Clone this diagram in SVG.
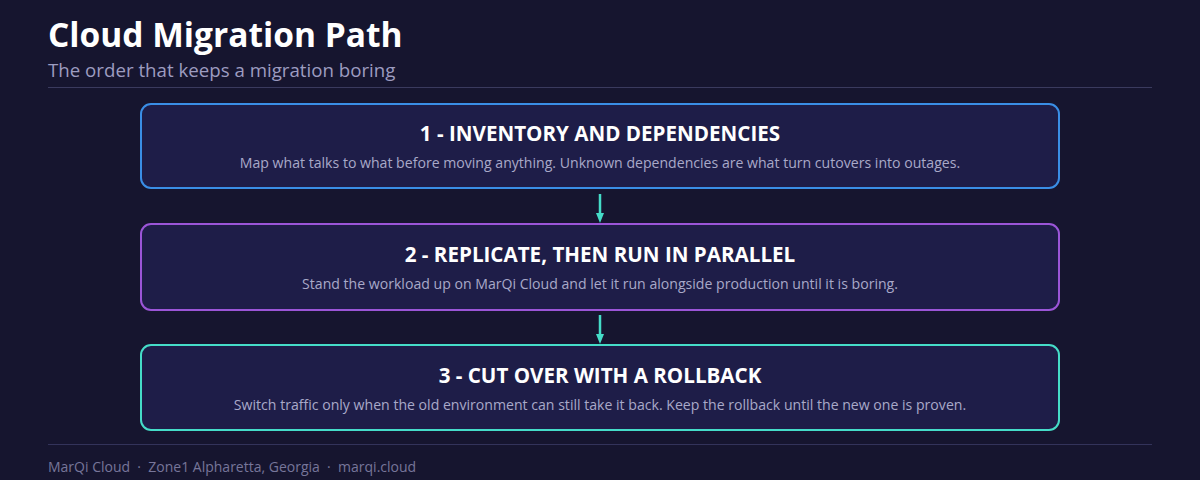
<svg xmlns="http://www.w3.org/2000/svg" width="1200" height="480" viewBox="0 0 1200 480">
<defs>
<style>
.t{font-family:"Open Sans","Noto Sans",sans-serif;}
.h{font-size:20.6px;font-weight:700;fill:#ffffff;text-anchor:middle}
.d{font-size:14.1px;fill:#a9a9c8;text-anchor:middle}
.box{fill:#1e1d48;stroke-width:2}
.c{stroke:#45dcc8;stroke-width:2.5;fill:none}
</style>
<marker id="a" markerWidth="10" markerHeight="10" refX="5" refY="4" orient="auto" markerUnits="userSpaceOnUse" viewBox="0 0 10 8"><path d="M0,0 L10,4 L0,8 z" fill="#45dcc8"/></marker>
</defs>
<rect width="1200" height="480" fill="#16152f"/>
<text class="t" x="48" y="47" font-size="33.5" font-weight="700" fill="#ffffff">Cloud Migration Path</text>
<text class="t" x="48" y="77" font-size="18.7" fill="#9d9cc0">The order that keeps a migration boring</text>
<line x1="48" y1="87.5" x2="1152" y2="87.5" stroke="#3a3a5e"/>
<g id="n1"><rect class="box" x="141" y="104" width="918" height="84" rx="10" stroke="#3a8ee6"/>
<text class="t h" x="600" y="141">1 - INVENTORY AND DEPENDENCIES</text>
<text class="t d" x="600" y="168">Map what talks to what before moving anything. Unknown dependencies are what turn cutovers into outages.</text></g>
<g id="n2"><rect class="box" x="141" y="224" width="918" height="86" rx="10" stroke="#9b55d8"/>
<text class="t h" x="600" y="262">2 - REPLICATE, THEN RUN IN PARALLEL</text>
<text class="t d" x="600" y="289">Stand the workload up on MarQi Cloud and let it run alongside production until it is boring.</text></g>
<g id="n3"><rect class="box" x="141" y="345" width="918" height="85" rx="10" stroke="#45dcc8"/>
<text class="t h" x="600" y="383">3 - CUT OVER WITH A ROLLBACK</text>
<text class="t d" x="600" y="410">Switch traffic only when the old environment can still take it back. Keep the rollback until the new one is proven.</text></g>
<g id="connectors">
<line class="c" x1="600" y1="194" x2="600" y2="218" marker-end="url(#a)"/>
<line class="c" x1="600" y1="315" x2="600" y2="339" marker-end="url(#a)"/>
</g>
<line x1="48" y1="444.5" x2="1152" y2="444.5" stroke="#33335a"/>
<text class="t" x="48" y="472" font-size="14" fill="#77769a" xml:space="preserve">MarQi Cloud  ·  Zone1 Alpharetta, Georgia  ·  marqi.cloud</text>
</svg>
